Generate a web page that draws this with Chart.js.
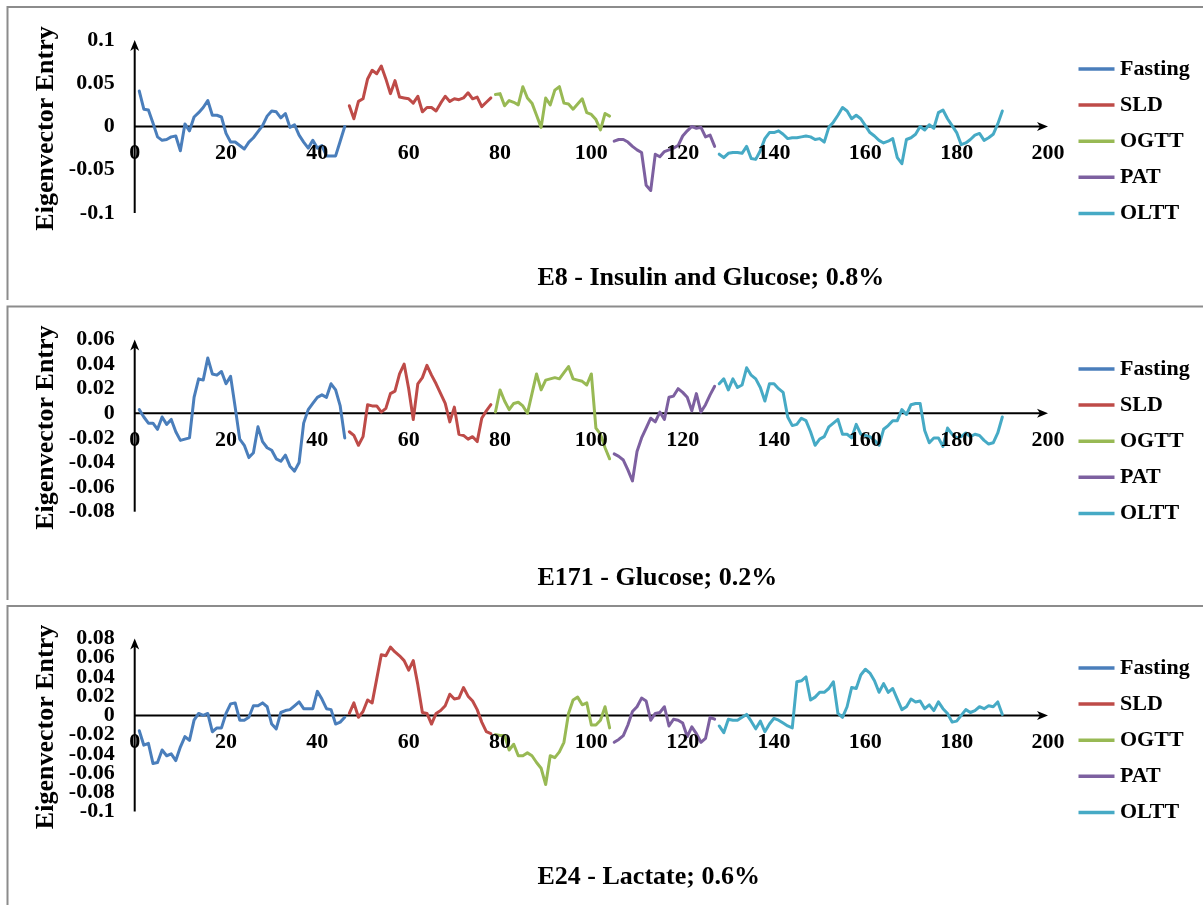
<!DOCTYPE html>
<html>
<head>
<meta charset="utf-8">
<script src="https://cdn.jsdelivr.net/npm/chart.js@4/dist/chart.umd.min.js"></script>
<style>
  html, body { margin: 0; padding: 0; background: #fff; }
  #wrap { position: relative; width: 1203px; height: 905px; overflow: hidden; background: #fff; }
  #wrap canvas { position: absolute; left: 0; }
</style>
</head>
<body>
<div id="wrap">
  <canvas id="p1" width="1203" height="300" style="top:0px"></canvas>
  <canvas id="p2" width="1203" height="300" style="top:300px"></canvas>
  <canvas id="p3" width="1203" height="305" style="top:600px"></canvas>
</div>
<script>
// Challenge phases, in order along the concatenated time axis
const phaseNames  = ['Fasting', 'SLD', 'OGTT', 'PAT', 'OLTT'];
const phaseColors = ['#4A7EBB', '#BE4B48', '#98B954', '#7D60A0', '#46AAC5'];
// first sample index of each phase
const phaseStart  = [1, 47, 79, 105, 128];

const xTicks = [0, 20, 40, 60, 80, 100, 120, 140, 160, 180, 200];

// ---- E8 - Insulin and Glucose ----
const e8Fasting = [0.041,0.020,0.019,0.004,-0.012,-0.016,-0.015,-0.012,-0.011,-0.028,
  0.003,-0.005,0.011,0.016,0.022,0.030,0.013,0.013,0.011,-0.008,
  -0.018,-0.018,-0.022,-0.026,-0.018,-0.013,-0.006,0.001,0.012,0.018,
  0.017,0.010,0.015,-0.001,0.002,-0.010,-0.018,-0.025,-0.016,-0.025,
  -0.022,-0.034,-0.034,-0.034,-0.017,0.000];
const e8SLD = [0.024,0.009,0.029,0.032,0.055,0.065,0.061,0.070,0.055,0.038,
  0.053,0.034,0.033,0.032,0.027,0.035,0.017,0.022,0.022,0.018,
  0.027,0.035,0.029,0.032,0.031,0.033,0.039,0.032,0.034,0.023,
  0.028,0.033];
const e8OGTT = [0.037,0.038,0.024,0.030,0.028,0.025,0.046,0.033,0.027,0.013,
  -0.001,0.033,0.025,0.042,0.046,0.027,0.026,0.020,0.026,0.032,
  0.016,0.014,0.008,-0.004,0.015,0.012];
const e8PAT = [-0.017,-0.015,-0.015,-0.018,-0.023,-0.027,-0.030,-0.068,-0.074,-0.032,
  -0.035,-0.029,-0.027,-0.025,-0.022,-0.011,-0.005,0.000,-0.002,-0.001,
  -0.012,-0.010,-0.023];
const e8OLTT = [-0.032,-0.036,-0.031,-0.030,-0.030,-0.031,-0.023,-0.037,-0.038,-0.028,
  -0.014,-0.007,-0.007,-0.005,-0.009,-0.014,-0.013,-0.013,-0.012,-0.011,
  -0.012,-0.015,-0.014,-0.018,-0.001,0.005,0.013,0.022,0.018,0.009,
  0.013,0.009,0.001,-0.007,-0.011,-0.016,-0.019,-0.017,-0.014,-0.036,
  -0.043,-0.015,-0.013,-0.009,0.000,-0.004,0.002,-0.002,0.016,0.019,
  0.009,0.001,-0.007,-0.021,-0.019,-0.015,-0.010,-0.008,-0.016,-0.013,
  -0.009,0.003,0.018];
const e8YTicks = [0.1, 0.05, 0, -0.05, -0.1];

// ---- E171 - Glucose ----
const e171Fasting = [0.003,-0.003,-0.008,-0.008,-0.013,-0.003,-0.009,-0.005,-0.015,-0.022,
  -0.021,-0.020,0.013,0.028,0.027,0.045,0.032,0.031,0.034,0.024,
  0.030,0.005,-0.021,-0.026,-0.036,-0.032,-0.011,-0.023,-0.028,-0.030,
  -0.037,-0.039,-0.034,-0.043,-0.047,-0.040,-0.008,0.003,0.008,0.013,
  0.015,0.013,0.024,0.019,0.006,-0.020];
const e171SLD = [-0.015,-0.018,-0.026,-0.019,0.007,0.006,0.006,0.001,0.004,0.016,
  0.018,0.032,0.040,0.020,-0.005,0.024,0.029,0.039,0.031,0.024,
  0.016,0.008,-0.007,0.005,-0.017,-0.018,-0.021,-0.019,-0.023,-0.004,
  0.002,0.007];
const e171OGTT = [0.001,0.019,0.010,0.003,0.008,0.009,0.006,0.000,0.016,0.032,
  0.019,0.027,0.028,0.029,0.028,0.033,0.038,0.028,0.027,0.026,
  0.023,0.032,-0.012,-0.017,-0.028,-0.037];
const e171PAT = [-0.033,-0.035,-0.038,-0.046,-0.055,-0.031,-0.020,-0.012,-0.004,-0.007,
  0.001,-0.005,0.013,0.014,0.020,0.017,0.013,0.002,0.016,0.001,
  0.007,0.015,0.022];
const e171OLTT = [0.024,0.028,0.019,0.028,0.021,0.023,0.037,0.031,0.028,0.021,
  0.010,0.024,0.024,0.020,0.017,-0.003,-0.010,-0.009,-0.004,-0.006,
  -0.015,-0.026,-0.021,-0.019,-0.011,-0.008,-0.005,-0.017,-0.017,-0.020,
  -0.009,-0.017,-0.018,-0.019,-0.022,-0.026,-0.013,-0.010,-0.006,-0.006,
  0.003,-0.001,0.007,0.008,0.008,-0.014,-0.024,-0.020,-0.020,-0.027,
  -0.012,-0.017,-0.020,-0.019,-0.016,-0.019,-0.017,-0.018,-0.022,-0.025,
  -0.024,-0.016,-0.003];
const e171YTicks = [0.06, 0.04, 0.02, 0, -0.02, -0.04, -0.06, -0.08];

// ---- E24 - Lactate ----
const e24Fasting = [-0.016,-0.031,-0.029,-0.050,-0.049,-0.036,-0.042,-0.040,-0.047,-0.033,
  -0.022,-0.026,-0.005,0.002,0.000,0.002,-0.017,-0.013,-0.013,0.002,
  0.012,0.013,-0.005,-0.005,-0.002,0.010,0.010,0.013,0.009,-0.009,
  -0.014,0.003,0.005,0.006,0.010,0.014,0.007,0.007,0.007,0.025,
  0.017,0.007,0.006,-0.009,-0.007,-0.002];
const e24SLD = [0.002,0.013,-0.002,0.004,0.016,0.013,0.038,0.063,0.062,0.071,
  0.066,0.062,0.057,0.047,0.057,0.032,0.003,0.002,-0.009,0.002,
  0.005,0.010,0.022,0.017,0.018,0.029,0.020,0.015,0.006,-0.007,
  -0.017,-0.019];
const e24OGTT = [-0.020,-0.021,-0.021,-0.036,-0.030,-0.042,-0.042,-0.039,-0.042,-0.049,
  -0.055,-0.072,-0.042,-0.044,-0.038,-0.028,0.002,0.016,0.019,0.011,
  0.013,-0.010,-0.010,-0.005,0.009,-0.013];
const e24PAT = [-0.028,-0.025,-0.021,-0.010,0.004,0.009,0.018,0.015,-0.005,0.002,
  0.003,0.009,-0.011,-0.004,-0.005,-0.008,-0.022,-0.012,-0.019,-0.028,
  -0.024,-0.002,-0.004];
const e24OLTT = [-0.011,-0.018,-0.004,-0.005,-0.005,-0.002,0.001,-0.006,-0.014,-0.006,
  -0.017,-0.009,-0.003,-0.005,-0.008,-0.011,-0.013,0.035,0.036,0.040,
  0.016,0.019,0.024,0.024,0.028,0.035,0.002,-0.002,0.009,0.029,
  0.028,0.042,0.048,0.044,0.036,0.024,0.033,0.024,0.028,0.017,
  0.006,0.009,0.017,0.014,0.015,0.007,0.011,0.005,0.014,0.007,
  0.002,-0.007,-0.006,0.000,0.006,0.003,0.005,0.009,0.007,0.010,
  0.009,0.014,0.001];
const e24YTicks = [0.08, 0.06, 0.04, 0.02, 0, -0.02, -0.04, -0.06, -0.08, -0.1];

const SERIF = '"Liberation Serif", "Times New Roman", Times, serif';

// Frame, arrowed axes, tick labels, axis title, caption and legend of one panel
const panelDecor = {
  id: 'panelDecor',
  beforeDraw(chart, args, o) {
    const { ctx, width, height } = chart;
    ctx.save();
    ctx.fillStyle = '#ffffff';
    ctx.fillRect(0, 0, width, height);
    ctx.strokeStyle = '#8c8c8c';
    ctx.lineWidth = 2;
    ctx.beginPath();
    ctx.moveTo(7.5, height);
    ctx.lineTo(7.5, o.frameTop);
    ctx.lineTo(width, o.frameTop);
    ctx.stroke();
    ctx.restore();
  },
  beforeDatasetsDraw(chart, args, o) {
    const { ctx, scales: { x, y } } = chart;
    const x0 = x.getPixelForValue(0);
    const xEnd = x.getPixelForValue(x.max);
    const yTop = y.getPixelForValue(y.max);
    const yBot = y.getPixelForValue(y.min);
    const yZero = y.getPixelForValue(0);
    ctx.save();
    ctx.strokeStyle = '#000';
    ctx.fillStyle = '#000';
    ctx.lineWidth = 2;
    // vertical axis
    ctx.beginPath();
    ctx.moveTo(x0, yBot);
    ctx.lineTo(x0, yTop + 6);
    ctx.stroke();
    ctx.beginPath();
    ctx.moveTo(x0, yTop);
    ctx.lineTo(x0 - 4.5, yTop + 11);
    ctx.lineTo(x0, yTop + 8);
    ctx.lineTo(x0 + 4.5, yTop + 11);
    ctx.closePath();
    ctx.fill();
    // horizontal axis through zero
    ctx.beginPath();
    ctx.moveTo(x0, yZero);
    ctx.lineTo(xEnd - 6, yZero);
    ctx.stroke();
    ctx.beginPath();
    ctx.moveTo(xEnd, yZero);
    ctx.lineTo(xEnd - 11, yZero - 4.5);
    ctx.lineTo(xEnd - 8, yZero);
    ctx.lineTo(xEnd - 11, yZero + 4.5);
    ctx.closePath();
    ctx.fill();
    ctx.restore();
  },
  afterDraw(chart, args, o) {
    const { ctx, scales: { x, y } } = chart;
    const x0 = x.getPixelForValue(0);
    const yTop = y.getPixelForValue(y.max);
    const yBot = y.getPixelForValue(y.min);
    const yZero = y.getPixelForValue(0);
    ctx.save();
    ctx.fillStyle = '#000';
    ctx.font = 'bold 22px ' + SERIF;
    // y tick labels
    ctx.textAlign = 'right';
    ctx.textBaseline = 'middle';
    o.yTicks.forEach(v => ctx.fillText(String(v), x0 - 20, y.getPixelForValue(v)));
    // x tick labels under the zero line
    ctx.textAlign = 'center';
    xTicks.forEach(v => ctx.fillText(String(v), x.getPixelForValue(v), yZero + 27));
    // y axis title
    ctx.save();
    ctx.font = 'bold 26px ' + SERIF;
    ctx.translate(46, (yTop + yBot) / 2 + 2);
    ctx.rotate(-Math.PI / 2);
    ctx.textAlign = 'center';
    ctx.textBaseline = 'middle';
    ctx.fillText('Eigenvector Entry', 0, 0);
    ctx.restore();
    // caption
    ctx.font = 'bold 26px ' + SERIF;
    ctx.textAlign = 'left';
    ctx.textBaseline = 'middle';
    ctx.fillText(o.caption, 537.5, o.captionY);
    // legend
    ctx.font = 'bold 22px ' + SERIF;
    chart.data.datasets.forEach((ds, i) => {
      const ly = o.legendTop + i * 36.1;
      ctx.strokeStyle = ds.borderColor;
      ctx.lineWidth = 3.5;
      ctx.beginPath();
      ctx.moveTo(1078.5, ly);
      ctx.lineTo(1114.5, ly);
      ctx.stroke();
      ctx.fillStyle = '#000';
      ctx.fillText(ds.label, 1120, ly);
    });
    ctx.restore();
  }
};

function phaseData(values, k) {
  return values.map((v, i) => ({ x: phaseStart[k] + i, y: v }));
}

function makePanel(id, series, yMin, yMax, pad, decor) {
  const datasets = series.map((vals, k) => ({
    label: phaseNames[k],
    data: phaseData(vals, k),
    borderColor: phaseColors[k],
    backgroundColor: phaseColors[k],
    borderWidth: 3,
    pointRadius: 0,
    tension: 0,
    borderJoinStyle: 'round',
    borderCapStyle: 'round',
    fill: false
  }));
  return new Chart(document.getElementById(id), {
    type: 'line',
    data: { datasets },
    plugins: [panelDecor],
    options: {
      responsive: false,
      animation: false,
      devicePixelRatio: 1,
      layout: { padding: pad },
      scales: {
        x: { type: 'linear', min: 0, max: 200, display: false },
        y: { type: 'linear', min: yMin, max: yMax, display: false }
      },
      plugins: {
        legend: { display: false },
        tooltip: { enabled: false },
        panelDecor: decor
      }
    }
  });
}

makePanel('p1', [e8Fasting, e8SLD, e8OGTT, e8PAT, e8OLTT], -0.1, 0.1,
  { left: 134.7, right: 155, top: 40, bottom: 87 },
  { frameTop: 7, yTicks: e8YTicks, caption: 'E8 - Insulin and Glucose; 0.8%', captionY: 278, legendTop: 69 });

makePanel('p2', [e171Fasting, e171SLD, e171OGTT, e171PAT, e171OLTT], -0.08, 0.06,
  { left: 134.7, right: 155, top: 39.5, bottom: 88.3 },
  { frameTop: 6.5, yTicks: e171YTicks, caption: 'E171 - Glucose; 0.2%', captionY: 278, legendTop: 69 });

makePanel('p3', [e24Fasting, e24SLD, e24OGTT, e24PAT, e24OLTT], -0.1, 0.08,
  { left: 134.7, right: 155, top: 38.5, bottom: 93.5 },
  { frameTop: 6, yTicks: e24YTicks, caption: 'E24 - Lactate; 0.6%', captionY: 277, legendTop: 68 });
</script>
</body>
</html>
